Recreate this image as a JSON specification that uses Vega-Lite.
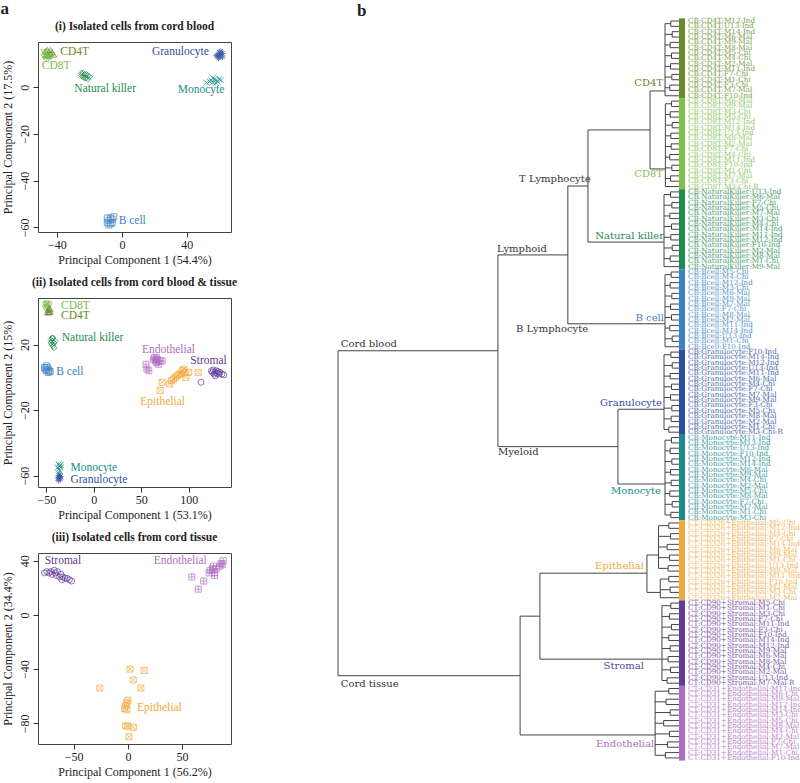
{
"$schema":"https://vega.github.io/schema/vega-lite/v6.json",
"padding":0,
"background":"white",
"config":{"view":{"stroke":"#444","strokeWidth":1},
"axis":{"domain":false,"grid":false,"tickColor":"#333","tickSize":5,"labelFont":"Liberation Serif","labelFontSize":12,"labelColor":"#222","titleFont":"Liberation Serif","titleFontSize":12,"titleFontWeight":"normal","titleColor":"#222","labelPadding":2},
"axisY":{"labelAngle":-90,"labelAlign":"center","labelBaseline":"bottom","titlePadding":4},
"axisX":{"titlePadding":4},
"title":{"font":"Liberation Serif","fontSize":11.5,"fontWeight":"bold","color":"#222","offset":10}},
"datasets":{
"pts":[
{"p":1,"c":"CD4T","x":-46,"y":16},{"p":1,"c":"CD4T","x":-45,"y":15},{"p":1,"c":"CD4T","x":-44,"y":14.5},{"p":1,"c":"CD4T","x":-47,"y":15.5},{"p":1,"c":"CD4T","x":-43,"y":15},{"p":1,"c":"CD4T","x":-45,"y":13.5},{"p":1,"c":"CD4T","x":-46,"y":14},{"p":1,"c":"CD4T","x":-44,"y":16},{"p":1,"c":"CD4T","x":-42,"y":14},{"p":1,"c":"CD4T","x":-47,"y":13.8},
{"p":1,"c":"CD8T","x":-48,"y":15},{"p":1,"c":"CD8T","x":-47,"y":14},{"p":1,"c":"CD8T","x":-46,"y":13},{"p":1,"c":"CD8T","x":-45,"y":12.5},{"p":1,"c":"CD8T","x":-48,"y":13},{"p":1,"c":"CD8T","x":-46,"y":15},{"p":1,"c":"CD8T","x":-44,"y":13},{"p":1,"c":"CD8T","x":-47,"y":12},
{"p":1,"c":"NK","x":-25,"y":5},{"p":1,"c":"NK","x":-24,"y":4.5},{"p":1,"c":"NK","x":-23,"y":5.5},{"p":1,"c":"NK","x":-22,"y":4},{"p":1,"c":"NK","x":-21,"y":3.5},{"p":1,"c":"NK","x":-24,"y":6},{"p":1,"c":"NK","x":-23,"y":4},{"p":1,"c":"NK","x":-20,"y":4.5},{"p":1,"c":"NK","x":-22,"y":5.5},{"p":1,"c":"NK","x":-25,"y":6},{"p":1,"c":"NK","x":-21,"y":5},
{"p":1,"c":"Gran","x":59,"y":14},{"p":1,"c":"Gran","x":60,"y":15},{"p":1,"c":"Gran","x":61,"y":14},{"p":1,"c":"Gran","x":62,"y":14.5},{"p":1,"c":"Gran","x":58,"y":13.5},{"p":1,"c":"Gran","x":60,"y":13},{"p":1,"c":"Gran","x":61,"y":15.5},{"p":1,"c":"Gran","x":59.5,"y":12.5},{"p":1,"c":"Gran","x":62,"y":13},
{"p":1,"c":"Mono","x":52,"y":2},{"p":1,"c":"Mono","x":54,"y":2.5},{"p":1,"c":"Mono","x":55,"y":3},{"p":1,"c":"Mono","x":56,"y":2},{"p":1,"c":"Mono","x":57,"y":3.5},{"p":1,"c":"Mono","x":58,"y":3},{"p":1,"c":"Mono","x":59,"y":2.5},{"p":1,"c":"Mono","x":60,"y":3.5},{"p":1,"c":"Mono","x":61,"y":3},{"p":1,"c":"Mono","x":56,"y":4},{"p":1,"c":"Mono","x":58,"y":1.8},
{"p":1,"c":"B","x":-9,"y":-58},{"p":1,"c":"B","x":-8,"y":-57},{"p":1,"c":"B","x":-7,"y":-56},{"p":1,"c":"B","x":-6,"y":-56.5},{"p":1,"c":"B","x":-9,"y":-56},{"p":1,"c":"B","x":-7,"y":-58.5},{"p":1,"c":"B","x":-5,"y":-55.5},{"p":1,"c":"B","x":-8,"y":-59},{"p":1,"c":"B","x":-6,"y":-58},
{"p":2,"c":"CD8T","x":-51,"y":44},{"p":2,"c":"CD8T","x":-50,"y":45},{"p":2,"c":"CD8T","x":-49,"y":43},{"p":2,"c":"CD8T","x":-48,"y":42},{"p":2,"c":"CD8T","x":-50,"y":42.5},{"p":2,"c":"CD8T","x":-49,"y":45},{"p":2,"c":"CD8T","x":-47,"y":44},{"p":2,"c":"CD8T","x":-51,"y":42},
{"p":2,"c":"CD4T","x":-48,"y":41},{"p":2,"c":"CD4T","x":-47,"y":40},{"p":2,"c":"CD4T","x":-46,"y":41.5},{"p":2,"c":"CD4T","x":-49,"y":40},{"p":2,"c":"CD4T","x":-47,"y":42},{"p":2,"c":"CD4T","x":-46,"y":40},{"p":2,"c":"CD4T","x":-48,"y":39.5},
{"p":2,"c":"NK","x":-45,"y":23},{"p":2,"c":"NK","x":-44,"y":22},{"p":2,"c":"NK","x":-43,"y":24},{"p":2,"c":"NK","x":-42,"y":21},{"p":2,"c":"NK","x":-44,"y":20},{"p":2,"c":"NK","x":-43,"y":19},{"p":2,"c":"NK","x":-42,"y":18},{"p":2,"c":"NK","x":-45,"y":21},{"p":2,"c":"NK","x":-41,"y":22},{"p":2,"c":"NK","x":-44,"y":24},
{"p":2,"c":"B","x":-52,"y":6},{"p":2,"c":"B","x":-51,"y":5},{"p":2,"c":"B","x":-50,"y":4},{"p":2,"c":"B","x":-49,"y":6},{"p":2,"c":"B","x":-48,"y":3},{"p":2,"c":"B","x":-47,"y":4},{"p":2,"c":"B","x":-50,"y":7},{"p":2,"c":"B","x":-46,"y":3.5},{"p":2,"c":"B","x":-48,"y":5},
{"p":2,"c":"Mono","x":-37,"y":-53},{"p":2,"c":"Mono","x":-36,"y":-54},{"p":2,"c":"Mono","x":-35,"y":-55},{"p":2,"c":"Mono","x":-37,"y":-56},{"p":2,"c":"Mono","x":-36,"y":-57},{"p":2,"c":"Mono","x":-35,"y":-53.5},{"p":2,"c":"Mono","x":-38,"y":-55},
{"p":2,"c":"Gran","x":-37,"y":-60},{"p":2,"c":"Gran","x":-36,"y":-61},{"p":2,"c":"Gran","x":-35,"y":-62},{"p":2,"c":"Gran","x":-37,"y":-63},{"p":2,"c":"Gran","x":-36,"y":-59},{"p":2,"c":"Gran","x":-38,"y":-61.5},{"p":2,"c":"Gran","x":-35,"y":-60.5},
{"p":2,"c":"Endo","x":55,"y":8},{"p":2,"c":"Endo","x":56,"y":5},{"p":2,"c":"Endo","x":58,"y":4},{"p":2,"c":"Endo","x":63,"y":11},{"p":2,"c":"Endo","x":64,"y":12},{"p":2,"c":"Endo","x":65,"y":10},{"p":2,"c":"Endo","x":66,"y":9},{"p":2,"c":"Endo","x":67,"y":11},{"p":2,"c":"Endo","x":68,"y":8},{"p":2,"c":"Endo","x":70,"y":10},{"p":2,"c":"Endo","x":72,"y":10},{"p":2,"c":"Endo","x":66,"y":12},
{"p":2,"c":"Epi","x":70,"y":-8},{"p":2,"c":"Epi","x":72,"y":-3},{"p":2,"c":"Epi","x":80,"y":-4},{"p":2,"c":"Epi","x":82,"y":-2},{"p":2,"c":"Epi","x":84,"y":-1},{"p":2,"c":"Epi","x":86,"y":0},{"p":2,"c":"Epi","x":88,"y":1},{"p":2,"c":"Epi","x":90,"y":2},{"p":2,"c":"Epi","x":92,"y":2},{"p":2,"c":"Epi","x":93,"y":4},{"p":2,"c":"Epi","x":95,"y":5},{"p":2,"c":"Epi","x":96,"y":3},{"p":2,"c":"Epi","x":100,"y":3},{"p":2,"c":"Epi","x":110,"y":3},{"p":2,"c":"Epi","x":97,"y":0},
{"p":2,"c":"Strom","x":113,"y":-3},{"p":2,"c":"Strom","x":124,"y":4},{"p":2,"c":"Strom","x":125,"y":3},{"p":2,"c":"Strom","x":126,"y":4.5},{"p":2,"c":"Strom","x":127,"y":2},{"p":2,"c":"Strom","x":128,"y":3},{"p":2,"c":"Strom","x":129,"y":4},{"p":2,"c":"Strom","x":130,"y":2.5},{"p":2,"c":"Strom","x":131,"y":3.5},{"p":2,"c":"Strom","x":132,"y":2},{"p":2,"c":"Strom","x":133,"y":3},{"p":2,"c":"Strom","x":135,"y":2},{"p":2,"c":"Strom","x":137,"y":1.5},{"p":2,"c":"Strom","x":128,"y":1},
{"p":3,"c":"Strom","x":-77,"y":31},{"p":3,"c":"Strom","x":-75,"y":32},{"p":3,"c":"Strom","x":-73,"y":31},{"p":3,"c":"Strom","x":-71,"y":32},{"p":3,"c":"Strom","x":-70,"y":30},{"p":3,"c":"Strom","x":-68,"y":33},{"p":3,"c":"Strom","x":-67,"y":31},{"p":3,"c":"Strom","x":-66,"y":29},{"p":3,"c":"Strom","x":-65,"y":32},{"p":3,"c":"Strom","x":-63,"y":28},{"p":3,"c":"Strom","x":-62,"y":30},{"p":3,"c":"Strom","x":-61,"y":26},{"p":3,"c":"Strom","x":-60,"y":28},{"p":3,"c":"Strom","x":-58,"y":27},{"p":3,"c":"Strom","x":-56,"y":27},{"p":3,"c":"Strom","x":-54,"y":26},{"p":3,"c":"Strom","x":-52,"y":25},
{"p":3,"c":"Endo","x":59,"y":28},{"p":3,"c":"Endo","x":65,"y":19},{"p":3,"c":"Endo","x":70,"y":25},{"p":3,"c":"Endo","x":75,"y":31},{"p":3,"c":"Endo","x":76,"y":33},{"p":3,"c":"Endo","x":78,"y":34},{"p":3,"c":"Endo","x":79,"y":36},{"p":3,"c":"Endo","x":80,"y":31},{"p":3,"c":"Endo","x":80,"y":29},{"p":3,"c":"Endo","x":82,"y":34},{"p":3,"c":"Endo","x":85,"y":36},{"p":3,"c":"Endo","x":86,"y":38},{"p":3,"c":"Endo","x":87,"y":37},{"p":3,"c":"Endo","x":88,"y":40},
{"p":3,"c":"Epi","x":-26,"y":-54},{"p":3,"c":"Epi","x":2,"y":-40},{"p":3,"c":"Epi","x":15,"y":-41},{"p":3,"c":"Epi","x":5,"y":-48},{"p":3,"c":"Epi","x":12,"y":-54},{"p":3,"c":"Epi","x":0,"y":-63},{"p":3,"c":"Epi","x":-1,"y":-65},{"p":3,"c":"Epi","x":-2,"y":-67},{"p":3,"c":"Epi","x":-3,"y":-69},{"p":3,"c":"Epi","x":-1,"y":-70},{"p":3,"c":"Epi","x":-2,"y":-82},{"p":3,"c":"Epi","x":0,"y":-82},{"p":3,"c":"Epi","x":5,"y":-83},{"p":3,"c":"Epi","x":1,"y":-90}
],
"lbl":[
{"p":1,"c":"CD4T","t":"CD4T","x":-38,"y":15.3},{"p":1,"c":"CD8T","t":"CD8T","x":-49.4,"y":9.3},{"p":1,"c":"NK","t":"Natural killer","x":-29.3,"y":-0.9},{"p":1,"c":"Gran","t":"Granulocyte","x":18.5,"y":15},{"p":1,"c":"Mono","t":"Monocyte","x":34.4,"y":-1},{"p":1,"c":"B","t":"B cell","x":-2,"y":-57.2},
{"p":2,"c":"CD8T","t":"CD8T","x":-34.5,"y":43.7},{"p":2,"c":"CD4T","t":"CD4T","x":-34.5,"y":37.4},{"p":2,"c":"NK","t":"Natural killer","x":-33.7,"y":23.8},{"p":2,"c":"B","t":"B cell","x":-39.5,"y":3},{"p":2,"c":"Endo","t":"Endothelial","x":50.8,"y":16.6},{"p":2,"c":"Strom","t":"Stromal","x":101.7,"y":9.9},{"p":2,"c":"Epi","t":"Epithelial","x":49,"y":-14.9},{"p":2,"c":"Mono","t":"Monocyte","x":-24.6,"y":-55.5},{"p":2,"c":"Gran","t":"Granulocyte","x":-24.6,"y":-62.6},
{"p":3,"c":"Strom","t":"Stromal","x":-76.8,"y":40},{"p":3,"c":"Endo","t":"Endothelial","x":23.9,"y":40},{"p":3,"c":"Epi","t":"Epithelial","x":8.4,"y":-68.9}
],
"leaves":[
{"i":1,"h":0,"c":"CD4T","n":"CB:CD4T:M12-Ind","ph":0.024},{"i":2,"h":0,"c":"CD4T","n":"CB:CD4T:U13-Ind","ph":0.024},{"i":3,"h":0,"c":"CD4T","n":"CB:CD4T:M14-Ind","ph":0.02},{"i":4,"h":0,"c":"CD4T","n":"CB:CD4T:M6-Mal","ph":0.02},{"i":5,"h":0,"c":"CD4T","n":"CB:CD4T:M9-Mal","ph":0.026},{"i":6,"h":0,"c":"CD4T","n":"CB:CD4T:M8-Mal","ph":0.026},{"i":7,"h":0,"c":"CD4T","n":"CB:CD4T:M5-Chi","ph":0.022},{"i":8,"h":0,"c":"CD4T","n":"CB:CD4T:M4-Chi","ph":0.022},{"i":9,"h":0,"c":"CD4T","n":"CB:CD4T:M2-Mal","ph":0.025},{"i":10,"h":0,"c":"CD4T","n":"CB:CD4T:M11-Ind","ph":0.025},{"i":11,"h":0,"c":"CD4T","n":"CB:CD4T:F7-Chi","ph":0.021},{"i":12,"h":0,"c":"CD4T","n":"CB:CD4T:M1-Chi","ph":0.021},{"i":13,"h":0,"c":"CD4T","n":"CB:CD4T:F3-Chi","ph":0.027},{"i":14,"h":0,"c":"CD4T","n":"CB:CD4T:M7-Mal","ph":0.027},{"i":15,"h":0,"c":"CD4T","n":"CB:CD4T:F10-Ind","ph":0.041},
{"i":16,"h":0,"c":"CD8T","n":"CB:CD8T:M6-Mal","ph":0.022},{"i":17,"h":0,"c":"CD8T","n":"CB:CD8T:M9-Mal","ph":0.022},{"i":18,"h":0,"c":"CD8T","n":"CB:CD8T:M3-Chi","ph":0.026},{"i":19,"h":0,"c":"CD8T","n":"CB:CD8T:M5-Chi","ph":0.026},{"i":20,"h":0,"c":"CD8T","n":"CB:CD8T:M12-Ind","ph":0.02},{"i":21,"h":0,"c":"CD8T","n":"CB:CD8T:M14-Ind","ph":0.02},{"i":22,"h":0,"c":"CD8T","n":"CB:CD8T:U13-Ind","ph":0.024},{"i":23,"h":0,"c":"CD8T","n":"CB:CD8T:M8-Mal","ph":0.024},{"i":24,"h":0,"c":"CD8T","n":"CB:CD8T:M2-Mal","ph":0.023},{"i":25,"h":0,"c":"CD8T","n":"CB:CD8T:F7-Chi","ph":0.023},{"i":26,"h":0,"c":"CD8T","n":"CB:CD8T:M4-Chi","ph":0.027},{"i":27,"h":0,"c":"CD8T","n":"CB:CD8T:M11-Ind","ph":0.027},{"i":28,"h":0,"c":"CD8T","n":"CB:CD8T:F10-Ind","ph":0.021},{"i":29,"h":0,"c":"CD8T","n":"CB:CD8T:M1-Chi","ph":0.021},{"i":30,"h":0,"c":"CD8T","n":"CB:CD8T:M7-Mal","ph":0.025},{"i":31,"h":0,"c":"CD8T","n":"CB:CD8T:F3-Chi","ph":0.025},{"i":32,"h":0,"c":"CD8T","n":"CB:CD8T:M3-Chi-R","ph":0.04},
{"i":33,"h":0,"c":"NK","n":"CB:NaturalKiller:U13-Ind","ph":0.025},{"i":34,"h":0,"c":"NK","n":"CB:NaturalKiller:M6-Mal","ph":0.025},{"i":35,"h":0,"c":"NK","n":"CB:NaturalKiller:F7-Chi","ph":0.021},{"i":36,"h":0,"c":"NK","n":"CB:NaturalKiller:M5-Chi","ph":0.021},{"i":37,"h":0,"c":"NK","n":"CB:NaturalKiller:M7-Mal","ph":0.027},{"i":38,"h":0,"c":"NK","n":"CB:NaturalKiller:M3-Chi","ph":0.027},{"i":39,"h":0,"c":"NK","n":"CB:NaturalKiller:M4-Chi","ph":0.022},{"i":40,"h":0,"c":"NK","n":"CB:NaturalKiller:M14-Ind","ph":0.022},{"i":41,"h":0,"c":"NK","n":"CB:NaturalKiller:M11-Ind","ph":0.024},{"i":42,"h":0,"c":"NK","n":"CB:NaturalKiller:M12-Ind","ph":0.024},{"i":43,"h":0,"c":"NK","n":"CB:NaturalKiller:F10-Ind","ph":0.02},{"i":44,"h":0,"c":"NK","n":"CB:NaturalKiller:M2-Mal","ph":0.02},{"i":45,"h":0,"c":"NK","n":"CB:NaturalKiller:M8-Mal","ph":0.026},{"i":46,"h":0,"c":"NK","n":"CB:NaturalKiller:M1-Chi","ph":0.026},{"i":47,"h":0,"c":"NK","n":"CB:NaturalKiller:M9-Mal","ph":0.044},
{"i":48,"h":0,"c":"B","n":"CB:Bcell:M5-Chi","ph":0.023},{"i":49,"h":0,"c":"B","n":"CB:Bcell:M4-Chi","ph":0.023},{"i":50,"h":0,"c":"B","n":"CB:Bcell:M12-Ind","ph":0.026},{"i":51,"h":0,"c":"B","n":"CB:Bcell:M3-Chi","ph":0.026},{"i":52,"h":0,"c":"B","n":"CB:Bcell:M6-Mal","ph":0.021},{"i":53,"h":0,"c":"B","n":"CB:Bcell:M9-Mal","ph":0.021},{"i":54,"h":0,"c":"B","n":"CB:Bcell:M7-Mal","ph":0.025},{"i":55,"h":0,"c":"B","n":"CB:Bcell:F7-Chi","ph":0.025},{"i":56,"h":0,"c":"B","n":"CB:Bcell:M8-Mal","ph":0.022},{"i":57,"h":0,"c":"B","n":"CB:Bcell:M2-Mal","ph":0.022},{"i":58,"h":0,"c":"B","n":"CB:Bcell:M11-Ind","ph":0.027},{"i":59,"h":0,"c":"B","n":"CB:Bcell:M14-Ind","ph":0.027},{"i":60,"h":0,"c":"B","n":"CB:Bcell:U13-Ind","ph":0.02},{"i":61,"h":0,"c":"B","n":"CB:Bcell:M1-Chi","ph":0.02},{"i":62,"h":0,"c":"B","n":"CB:Bcell:F10-Ind","ph":0.041},
{"i":63,"h":0,"c":"Gran","n":"CB:Granulocyte:F10-Ind","ph":0.024},{"i":64,"h":0,"c":"Gran","n":"CB:Granulocyte:M14-Ind","ph":0.024},{"i":65,"h":0,"c":"Gran","n":"CB:Granulocyte:M12-Ind","ph":0.02},{"i":66,"h":0,"c":"Gran","n":"CB:Granulocyte:U13-Ind","ph":0.02},{"i":67,"h":0,"c":"Gran","n":"CB:Granulocyte:M11-Ind","ph":0.026},{"i":68,"h":0,"c":"Gran","n":"CB:Granulocyte:M6-Mal","ph":0.026},{"i":69,"h":0,"c":"Gran","n":"CB:Granulocyte:M4-Chi","ph":0.022},{"i":70,"h":0,"c":"Gran","n":"CB:Granulocyte:F7-Chi","ph":0.022},{"i":71,"h":0,"c":"Gran","n":"CB:Granulocyte:M7-Mal","ph":0.025},{"i":72,"h":0,"c":"Gran","n":"CB:Granulocyte:M9-Mal","ph":0.025},{"i":73,"h":0,"c":"Gran","n":"CB:Granulocyte:F3-Chi","ph":0.021},{"i":74,"h":0,"c":"Gran","n":"CB:Granulocyte:M5-Chi","ph":0.021},{"i":75,"h":0,"c":"Gran","n":"CB:Granulocyte:M8-Mal","ph":0.023},{"i":76,"h":0,"c":"Gran","n":"CB:Granulocyte:M2-Mal","ph":0.023},{"i":77,"h":0,"c":"Gran","n":"CB:Granulocyte:M1-Chi","ph":0.03},{"i":78,"h":0,"c":"Gran","n":"CB:Granulocyte:M3-Chi-R","ph":0.03},
{"i":79,"h":0,"c":"Mono","n":"CB:Monocyte:M11-Ind","ph":0.022},{"i":80,"h":0,"c":"Mono","n":"CB:Monocyte:M13-Ind","ph":0.022},{"i":81,"h":0,"c":"Mono","n":"CB:Monocyte:U13-Ind","ph":0.026},{"i":82,"h":0,"c":"Mono","n":"CB:Monocyte:F10-Ind","ph":0.026},{"i":83,"h":0,"c":"Mono","n":"CB:Monocyte:M12-Ind","ph":0.021},{"i":84,"h":0,"c":"Mono","n":"CB:Monocyte:M14-Ind","ph":0.021},{"i":85,"h":0,"c":"Mono","n":"CB:Monocyte:M6-Mal","ph":0.025},{"i":86,"h":0,"c":"Mono","n":"CB:Monocyte:M9-Mal","ph":0.025},{"i":87,"h":0,"c":"Mono","n":"CB:Monocyte:M4-Chi","ph":0.023},{"i":88,"h":0,"c":"Mono","n":"CB:Monocyte:M2-Mal","ph":0.023},{"i":89,"h":0,"c":"Mono","n":"CB:Monocyte:M5-Chi","ph":0.027},{"i":90,"h":0,"c":"Mono","n":"CB:Monocyte:M8-Mal","ph":0.027},{"i":91,"h":0,"c":"Mono","n":"CB:Monocyte:F7-Chi","ph":0.02},{"i":92,"h":0,"c":"Mono","n":"CB:Monocyte:M7-Mal","ph":0.02},{"i":93,"h":0,"c":"Mono","n":"CB:Monocyte:M1-Chi","ph":0.024},{"i":94,"h":0,"c":"Mono","n":"CB:Monocyte:M3-Chi","ph":0.024},
{"i":95,"h":0,"c":"Epi","n":"CT:CD326+Epithelial:M5-Chi","ph":0.03},{"i":96,"h":0,"c":"Epi","n":"CT:CD326+Epithelial:M12-Ind","ph":0.03},{"i":97,"h":0,"c":"Epi","n":"CT:CD326+Epithelial:M4-Chi","ph":0.025},{"i":98,"h":0,"c":"Epi","n":"CT:CD326+Epithelial:F7-Chi","ph":0.025},{"i":99,"h":0,"c":"Epi","n":"CT:CD326+Epithelial:M14-Ind","ph":0.035},{"i":100,"h":0,"c":"Epi","n":"CT:CD326+Epithelial:M6-Mal","ph":0.035},{"i":101,"h":0,"c":"Epi","n":"CT:CD326+Epithelial:M9-Mal","ph":0.028},{"i":102,"h":0,"c":"Epi","n":"CT:CD326+Epithelial:M1-Chi","ph":0.028},{"i":103,"h":0,"c":"Epi","n":"CT:CD326+Epithelial:U13-Ind","ph":0.032},{"i":104,"h":0,"c":"Epi","n":"CT:CD326+Epithelial:M8-Mal","ph":0.032},{"i":105,"h":0,"c":"Epi","n":"CT:CD326+Epithelial:M11-Ind","ph":0.03},{"i":106,"h":0,"c":"Epi","n":"CT:CD326+Epithelial:F10-Ind","ph":0.03},{"i":107,"h":0,"c":"Epi","n":"CT:CD326+Epithelial:M2-Mal","ph":0.026},{"i":108,"h":0,"c":"Epi","n":"CT:CD326+Epithelial:M3-Chi","ph":0.026},{"i":109,"h":0,"c":"Epi","n":"CT:CD326+Epithelial:M7-Mal","ph":0.055},
{"i":110,"h":0,"c":"Strom","n":"CT:CD90+Stromal:M5-Chi","ph":0.024},{"i":111,"h":0,"c":"Strom","n":"CT:CD90+Stromal:M1-Chi","ph":0.024},{"i":112,"h":0,"c":"Strom","n":"CT:CD90+Stromal:M3-Chi","ph":0.028},{"i":113,"h":0,"c":"Strom","n":"CT:CD90+Stromal:F7-Chi","ph":0.028},{"i":114,"h":0,"c":"Strom","n":"CT:CD90+Stromal:M11-Ind","ph":0.022},{"i":115,"h":0,"c":"Strom","n":"CT:CD90+Stromal:F3-Chi","ph":0.022},{"i":116,"h":0,"c":"Strom","n":"CT:CD90+Stromal:F10-Ind","ph":0.03},{"i":117,"h":0,"c":"Strom","n":"CT:CD90+Stromal:M14-Ind","ph":0.03},{"i":118,"h":0,"c":"Strom","n":"CT:CD90+Stromal:M12-Ind","ph":0.026},{"i":119,"h":0,"c":"Strom","n":"CT:CD90+Stromal:M9-Mal","ph":0.026},{"i":120,"h":0,"c":"Strom","n":"CT:CD90+Stromal:M6-Mal","ph":0.032},{"i":121,"h":0,"c":"Strom","n":"CT:CD90+Stromal:M8-Mal","ph":0.032},{"i":122,"h":0,"c":"Strom","n":"CT:CD90+Stromal:M4-Chi","ph":0.025},{"i":123,"h":0,"c":"Strom","n":"CT:CD90+Stromal:M2-Mal","ph":0.025},{"i":124,"h":0,"c":"Strom","n":"CT:CD90+Stromal:U13-Ind","ph":0.035},{"i":125,"h":0,"c":"Strom","n":"CT:CD90+Stromal:M7-Mal-R","ph":0.035},
{"i":126,"h":0,"c":"Endo","n":"CT:CD31+Endothelial:M11-Ind","ph":0.03},{"i":127,"h":0,"c":"Endo","n":"CT:CD31+Endothelial:M6-Chi","ph":0.03},{"i":128,"h":0,"c":"Endo","n":"CT:CD31+Endothelial:M9-Mal","ph":0.038},{"i":129,"h":0,"c":"Endo","n":"CT:CD31+Endothelial:M12-Ind","ph":0.038},{"i":130,"h":0,"c":"Endo","n":"CT:CD31+Endothelial:M14-Ind","ph":0.026},{"i":131,"h":0,"c":"Endo","n":"CT:CD31+Endothelial:M3-Chi","ph":0.026},{"i":132,"h":0,"c":"Endo","n":"CT:CD31+Endothelial:M5-Chi","ph":0.045},{"i":133,"h":0,"c":"Endo","n":"CT:CD31+Endothelial:M8-Mal","ph":0.045},{"i":134,"h":0,"c":"Endo","n":"CT:CD31+Endothelial:M4-Chi","ph":0.028},{"i":135,"h":0,"c":"Endo","n":"CT:CD31+Endothelial:M2-Mal","ph":0.028},{"i":136,"h":0,"c":"Endo","n":"CT:CD31+Endothelial:F7-Chi","ph":0.034},{"i":137,"h":0,"c":"Endo","n":"CT:CD31+Endothelial:M7-Mal","ph":0.034},{"i":138,"h":0,"c":"Endo","n":"CT:CD31+Endothelial:M1-Chi","ph":0.04},{"i":139,"h":0,"c":"Endo","n":"CT:CD31+Endothelial:F10-Ind","ph":0.04}
],
"nodes":[
{"h":0.024,"lo":1,"hi":2,"at":1.5,"ph":0.041},{"h":0.02,"lo":3,"hi":4,"at":3.5,"ph":0.041},{"h":0.026,"lo":5,"hi":6,"at":5.5,"ph":0.041},{"h":0.022,"lo":7,"hi":8,"at":7.5,"ph":0.041},{"h":0.025,"lo":9,"hi":10,"at":9.5,"ph":0.041},{"h":0.021,"lo":11,"hi":12,"at":11.5,"ph":0.041},{"h":0.027,"lo":13,"hi":14,"at":13.5,"ph":0.041},
{"h":0.041,"lo":1.5,"hi":15,"at":14.1,"ph":0.085},
{"h":0.022,"lo":16,"hi":17,"at":16.5,"ph":0.04},{"h":0.026,"lo":18,"hi":19,"at":18.5,"ph":0.04},{"h":0.02,"lo":20,"hi":21,"at":20.5,"ph":0.04},{"h":0.024,"lo":22,"hi":23,"at":22.5,"ph":0.04},{"h":0.023,"lo":24,"hi":25,"at":24.5,"ph":0.04},{"h":0.027,"lo":26,"hi":27,"at":26.5,"ph":0.04},{"h":0.021,"lo":28,"hi":29,"at":28.5,"ph":0.04},{"h":0.025,"lo":30,"hi":31,"at":30.5,"ph":0.04},
{"h":0.04,"lo":16.5,"hi":32,"at":28.7,"ph":0.085},
{"h":0.025,"lo":33,"hi":34,"at":33.5,"ph":0.044},{"h":0.021,"lo":35,"hi":36,"at":35.5,"ph":0.044},{"h":0.027,"lo":37,"hi":38,"at":37.5,"ph":0.044},{"h":0.022,"lo":39,"hi":40,"at":39.5,"ph":0.044},{"h":0.024,"lo":41,"hi":42,"at":41.5,"ph":0.044},{"h":0.02,"lo":43,"hi":44,"at":43.5,"ph":0.044},{"h":0.026,"lo":45,"hi":46,"at":45.5,"ph":0.044},
{"h":0.044,"lo":33.5,"hi":47,"at":42.4,"ph":0.267},
{"h":0.023,"lo":48,"hi":49,"at":48.5,"ph":0.041},{"h":0.026,"lo":50,"hi":51,"at":50.5,"ph":0.041},{"h":0.021,"lo":52,"hi":53,"at":52.5,"ph":0.041},{"h":0.025,"lo":54,"hi":55,"at":54.5,"ph":0.041},{"h":0.022,"lo":56,"hi":57,"at":56.5,"ph":0.041},{"h":0.027,"lo":58,"hi":59,"at":58.5,"ph":0.041},{"h":0.02,"lo":60,"hi":61,"at":60.5,"ph":0.041},
{"h":0.041,"lo":48.5,"hi":62,"at":57.7,"ph":0.326},
{"h":0.024,"lo":63,"hi":64,"at":63.5,"ph":0.044},{"h":0.02,"lo":65,"hi":66,"at":65.5,"ph":0.044},{"h":0.026,"lo":67,"hi":68,"at":67.5,"ph":0.044},{"h":0.022,"lo":69,"hi":70,"at":69.5,"ph":0.044},{"h":0.025,"lo":71,"hi":72,"at":71.5,"ph":0.044},{"h":0.021,"lo":73,"hi":74,"at":73.5,"ph":0.044},{"h":0.023,"lo":75,"hi":76,"at":75.5,"ph":0.044},{"h":0.03,"lo":77,"hi":78,"at":77.5,"ph":0.044},
{"h":0.044,"lo":63.5,"hi":77.5,"at":73.7,"ph":0.179},
{"h":0.022,"lo":79,"hi":80,"at":79.5,"ph":0.041},{"h":0.026,"lo":81,"hi":82,"at":81.5,"ph":0.041},{"h":0.021,"lo":83,"hi":84,"at":83.5,"ph":0.041},{"h":0.025,"lo":85,"hi":86,"at":85.5,"ph":0.041},{"h":0.023,"lo":87,"hi":88,"at":87.5,"ph":0.041},{"h":0.027,"lo":89,"hi":90,"at":89.5,"ph":0.041},{"h":0.02,"lo":91,"hi":92,"at":91.5,"ph":0.041},{"h":0.024,"lo":93,"hi":94,"at":93.5,"ph":0.041},
{"h":0.041,"lo":79.5,"hi":93.5,"at":87.7,"ph":0.179},
{"h":0.03,"lo":95,"hi":96,"at":95.5,"ph":0.06},{"h":0.025,"lo":97,"hi":98,"at":97.5,"ph":0.06},{"h":0.035,"lo":99,"hi":100,"at":99.5,"ph":0.06},{"h":0.028,"lo":101,"hi":102,"at":101.5,"ph":0.06},{"h":0.032,"lo":103,"hi":104,"at":103.5,"ph":0.06},
{"h":0.06,"lo":95.5,"hi":103.5,"at":101,"ph":0.094},
{"h":0.03,"lo":105,"hi":106,"at":105.5,"ph":0.055},{"h":0.026,"lo":107,"hi":108,"at":107.5,"ph":0.055},
{"h":0.055,"lo":105.5,"hi":109,"at":108,"ph":0.094},
{"h":0.094,"lo":101,"hi":108,"at":104.4,"ph":0.408},
{"h":0.024,"lo":110,"hi":111,"at":110.5,"ph":0.05},{"h":0.028,"lo":112,"hi":113,"at":112.5,"ph":0.05},{"h":0.022,"lo":114,"hi":115,"at":114.5,"ph":0.05},{"h":0.03,"lo":116,"hi":117,"at":116.5,"ph":0.05},{"h":0.026,"lo":118,"hi":119,"at":118.5,"ph":0.05},{"h":0.032,"lo":120,"hi":121,"at":120.5,"ph":0.05},{"h":0.025,"lo":122,"hi":123,"at":122.5,"ph":0.05},{"h":0.035,"lo":124,"hi":125,"at":124.5,"ph":0.05},
{"h":0.05,"lo":110.5,"hi":124.5,"at":120.5,"ph":0.408},
{"h":0.03,"lo":126,"hi":127,"at":126.5,"ph":0.07},{"h":0.038,"lo":128,"hi":129,"at":128.5,"ph":0.07},{"h":0.026,"lo":130,"hi":131,"at":130.5,"ph":0.07},{"h":0.045,"lo":132,"hi":133,"at":132.5,"ph":0.07},{"h":0.028,"lo":134,"hi":135,"at":134.5,"ph":0.07},{"h":0.034,"lo":136,"hi":137,"at":136.5,"ph":0.07},{"h":0.04,"lo":138,"hi":139,"at":138.5,"ph":0.07},
{"h":0.07,"lo":126.5,"hi":138.5,"at":134.7,"ph":0.466},
{"h":0.085,"lo":14.1,"hi":28.7,"at":21.4,"ph":0.267},
{"h":0.267,"lo":21.4,"hi":42.4,"at":31.9,"ph":0.326},
{"h":0.326,"lo":31.9,"hi":57.7,"at":44.8,"ph":0.531},
{"h":0.179,"lo":73.7,"hi":87.7,"at":80.7,"ph":0.531},
{"h":0.531,"lo":44.8,"hi":80.7,"at":62.75,"ph":1},
{"h":0.408,"lo":104.4,"hi":120.5,"at":112.45,"ph":0.466},
{"h":0.466,"lo":112.45,"hi":134.7,"at":123.6,"ph":1},
{"h":1,"lo":62.75,"hi":123.6,"at":93,"ph":1}
],
"groups":[
{"c":"CD4T","h":0,"b0":0.5,"b1":15.5},{"c":"CD8T","h":0,"b0":15.5,"b1":32.5},{"c":"NK","h":0,"b0":32.5,"b1":47.5},{"c":"B","h":0,"b0":47.5,"b1":62.5},{"c":"Gran","h":0,"b0":62.5,"b1":78.5},{"c":"Mono","h":0,"b0":78.5,"b1":94.5},{"c":"Epi","h":0,"b0":94.5,"b1":109.5},{"c":"Strom","h":0,"b0":109.5,"b1":125.5},{"c":"Endo","h":0,"b0":125.5,"b1":139.5}
],
"dlabR":[
{"c":"CD4T","t":"CD4T","h":0.047,"i":12.55},{"c":"CD8T","t":"CD8T","h":0.047,"i":29.7},{"c":"NK","t":"Natural killer","h":0.044,"i":41.3},{"c":"B","t":"B cell","h":0.044,"i":56.6},{"c":"Gran","t":"Granulocyte","h":0.05,"i":72.5},{"c":"Mono","t":"Monocyte","h":0.053,"i":89},{"c":"Epi","t":"Epithelial","h":0.103,"i":103.1},{"c":"Strom","t":"Stromal","h":0.103,"i":121.8},{"c":"Endo","t":"Endothelial","h":0.073,"i":136.3}
],
"dlabL":[
{"t":"T Lymphocyte","h":0.469,"i":30.6},{"t":"Lymphoid","h":0.534,"i":43.7},{"t":"B Lymphocyte","h":0.478,"i":58.6},{"t":"Myeloid","h":0.531,"i":81.8},{"t":"Cord blood","h":0.992,"i":61.4},{"t":"Cord tissue","h":0.992,"i":125.1}
],
"dlabB":[{"t":"b","h":0.944,"i":-0.87}]
},
"hconcat":[
{"title":{"text":"a","anchor":"start","fontSize":17,"fontWeight":"bold","offset":2,"font":"Liberation Serif"},
"spacing":10,
"vconcat":[
{"width":193,"height":190,"title":"(i) Isolated cells from cord blood",
"layer":[
{"data":{"name":"pts"},"transform":[{"filter":"datum.p==1"}],"mark":{"type":"point","filled":false,"size":36,"strokeWidth":1},
"encoding":{"x":{"field":"x","type":"quantitative","scale":{"domain":[-51.7,67.2],"nice":false,"zero":false},"axis":{"values":[-40,-20,0,20,40,60],"title":"Principal Component 1 (54.4%)"}},
"y":{"field":"y","type":"quantitative","scale":{"domain":[-62,19.4],"nice":false,"zero":false},"axis":{"values":[0,-20,-40,-60],"title":"Principal Component 2 (17.5%)"}},
"color":{"field":"c","type":"nominal","legend":null,"scale":{"domain":["CD4T","CD8T","NK","B","Gran","Mono","Epi","Strom","Endo"],"range":["#6a8a2a","#7cc24a","#1e8c4e","#3b82c4","#2d4f9e","#1a8c8c","#f2a93b","#5f3a99","#b06cc0"]}},
"shape":{"field":"c","type":"nominal","legend":null,"scale":{"domain":["CD4T","CD8T","NK","B","Gran","Mono","Epi","Strom","Endo"],"range":["triangle-up","triangle-down","diamond","square","M-1,0H1M0,-1V1M-0.7,-0.7L0.7,0.7M-0.7,0.7L0.7,-0.7","M-1,-1L1,1M-1,1L1,-1","M-1,-1H1V1H-1ZM-1,-1L1,1M-1,1L1,-1","circle","M-1,-1H1V1H-1ZM0,-1V1M-1,0H1"]}}}},
{"data":{"name":"lbl"},"transform":[{"filter":"datum.p==1"}],"mark":{"type":"text","align":"left","baseline":"middle","font":"Liberation Serif","fontSize":11.5},
"encoding":{"x":{"field":"x","type":"quantitative"},"y":{"field":"y","type":"quantitative"},"text":{"field":"t","type":"nominal"},
"color":{"field":"c","type":"nominal","legend":null}}}
]},
{"width":193,"height":189,"title":"(ii) Isolated cells from cord blood & tissue",
"layer":[
{"data":{"name":"pts"},"transform":[{"filter":"datum.p==2"}],"mark":{"type":"point","filled":false,"size":36,"strokeWidth":1},
"encoding":{"x":{"field":"x","type":"quantitative","scale":{"domain":[-58.8,144.6],"nice":false,"zero":false},"axis":{"values":[-50,0,50,100],"title":"Principal Component 1 (53.1%)"}},
"y":{"field":"y","type":"quantitative","scale":{"domain":[-66.9,48.4],"nice":false,"zero":false},"axis":{"values":[40,20,0,-20,-40,-60],"title":"Principal Component 2 (15%)"}},
"color":{"field":"c","type":"nominal","legend":null,"scale":{"domain":["CD4T","CD8T","NK","B","Gran","Mono","Epi","Strom","Endo"],"range":["#6a8a2a","#7cc24a","#1e8c4e","#3b82c4","#2d4f9e","#1a8c8c","#f2a93b","#5f3a99","#b06cc0"]}},
"shape":{"field":"c","type":"nominal","legend":null,"scale":{"domain":["CD4T","CD8T","NK","B","Gran","Mono","Epi","Strom","Endo"],"range":["triangle-up","triangle-down","diamond","square","M-1,0H1M0,-1V1M-0.7,-0.7L0.7,0.7M-0.7,0.7L0.7,-0.7","M-1,-1L1,1M-1,1L1,-1","M-1,-1H1V1H-1ZM-1,-1L1,1M-1,1L1,-1","circle","M-1,-1H1V1H-1ZM0,-1V1M-1,0H1"]}}}},
{"data":{"name":"lbl"},"transform":[{"filter":"datum.p==2"}],"mark":{"type":"text","align":"left","baseline":"middle","font":"Liberation Serif","fontSize":11.5},
"encoding":{"x":{"field":"x","type":"quantitative"},"y":{"field":"y","type":"quantitative"},"text":{"field":"t","type":"nominal"},
"color":{"field":"c","type":"nominal","legend":null}}}
]},
{"width":193,"height":191,"title":"(iii) Isolated cells from cord tissue",
"layer":[
{"data":{"name":"pts"},"transform":[{"filter":"datum.p==3"}],"mark":{"type":"point","filled":false,"size":36,"strokeWidth":1},
"encoding":{"x":{"field":"x","type":"quantitative","scale":{"domain":[-83,95.2],"nice":false,"zero":false},"axis":{"values":[-50,0,50],"title":"Principal Component 1 (56.2%)"}},
"y":{"field":"y","type":"quantitative","scale":{"domain":[-95.3,45.7],"nice":false,"zero":false},"axis":{"values":[40,20,0,-20,-40,-60,-80],"title":"Principal Component 2 (34.4%)"}},
"color":{"field":"c","type":"nominal","legend":null,"scale":{"domain":["CD4T","CD8T","NK","B","Gran","Mono","Epi","Strom","Endo"],"range":["#6a8a2a","#7cc24a","#1e8c4e","#3b82c4","#2d4f9e","#1a8c8c","#f2a93b","#5f3a99","#b06cc0"]}},
"shape":{"field":"c","type":"nominal","legend":null,"scale":{"domain":["CD4T","CD8T","NK","B","Gran","Mono","Epi","Strom","Endo"],"range":["triangle-up","triangle-down","diamond","square","M-1,0H1M0,-1V1M-0.7,-0.7L0.7,0.7M-0.7,0.7L0.7,-0.7","M-1,-1L1,1M-1,1L1,-1","M-1,-1H1V1H-1ZM-1,-1L1,1M-1,1L1,-1","circle","M-1,-1H1V1H-1ZM0,-1V1M-1,0H1"]}}}},
{"data":{"name":"lbl"},"transform":[{"filter":"datum.p==3"}],"mark":{"type":"text","align":"left","baseline":"middle","font":"Liberation Serif","fontSize":11.5},
"encoding":{"x":{"field":"x","type":"quantitative"},"y":{"field":"y","type":"quantitative"},"text":{"field":"t","type":"nominal"},
"color":{"field":"c","type":"nominal","legend":null}}}
]}
]},
{"width":360,"height":742,"view":{"stroke":null},
"layer":[
{"data":{"name":"nodes"},"mark":{"type":"rule","color":"#444","strokeWidth":1},
"encoding":{"x":{"field":"h","type":"quantitative","scale":{"domain":[-0.0293,1.0264],"reverse":true,"nice":false,"zero":false},"axis":null},
"y":{"field":"lo","type":"quantitative","scale":{"domain":[4.93,143.88],"reverse":true,"nice":false,"zero":false},"axis":null},"y2":{"field":"hi"}}},
{"data":{"name":"nodes"},"mark":{"type":"rule","color":"#444","strokeWidth":1},
"encoding":{"x":{"field":"h","type":"quantitative"},"x2":{"field":"ph"},"y":{"field":"at","type":"quantitative"}}},
{"data":{"name":"leaves"},"mark":{"type":"rule","color":"#444","strokeWidth":1},
"encoding":{"x":{"field":"h","type":"quantitative"},"x2":{"field":"ph"},"y":{"field":"i","type":"quantitative"}}},
{"data":{"name":"groups"},"mark":{"type":"rule","strokeWidth":6,"xOffset":3},
"encoding":{"x":{"field":"h","type":"quantitative"},"y":{"field":"b0","type":"quantitative"},"y2":{"field":"b1"},
"color":{"field":"c","type":"nominal","legend":null,"scale":{"domain":["CD4T","CD8T","NK","B","Gran","Mono","Epi","Strom","Endo"],"range":["#6a8a2a","#7cc24a","#1e8c4e","#3b82c4","#2d4f9e","#1a8c8c","#f2a93b","#5f3a99","#b06cc0"]}}}},
{"data":{"name":"leaves"},"mark":{"type":"text","align":"left","baseline":"middle","dx":9,"font":"DejaVu Serif","fontSize":7.2,"opacity":0.85},
"encoding":{"x":{"field":"h","type":"quantitative"},"y":{"field":"i","type":"quantitative"},"text":{"field":"n","type":"nominal"},
"color":{"field":"c","type":"nominal","legend":null}}},
{"data":{"name":"dlabR"},"mark":{"type":"text","align":"right","baseline":"middle","font":"DejaVu Serif","fontSize":10},
"encoding":{"x":{"field":"h","type":"quantitative"},"y":{"field":"i","type":"quantitative"},"text":{"field":"t","type":"nominal"},
"color":{"field":"c","type":"nominal","legend":null}}},
{"data":{"name":"dlabL"},"mark":{"type":"text","align":"left","baseline":"middle","font":"DejaVu Serif","fontSize":10,"color":"#333"},
"encoding":{"x":{"field":"h","type":"quantitative"},"y":{"field":"i","type":"quantitative"},"text":{"field":"t","type":"nominal"}}},
{"data":{"name":"dlabB"},"mark":{"type":"text","align":"left","baseline":"middle","font":"Liberation Serif","fontSize":17,"fontWeight":"bold","color":"#222"},
"encoding":{"x":{"field":"h","type":"quantitative"},"y":{"field":"i","type":"quantitative"},"text":{"field":"t","type":"nominal"}}}
]}
],
"spacing":91
}
